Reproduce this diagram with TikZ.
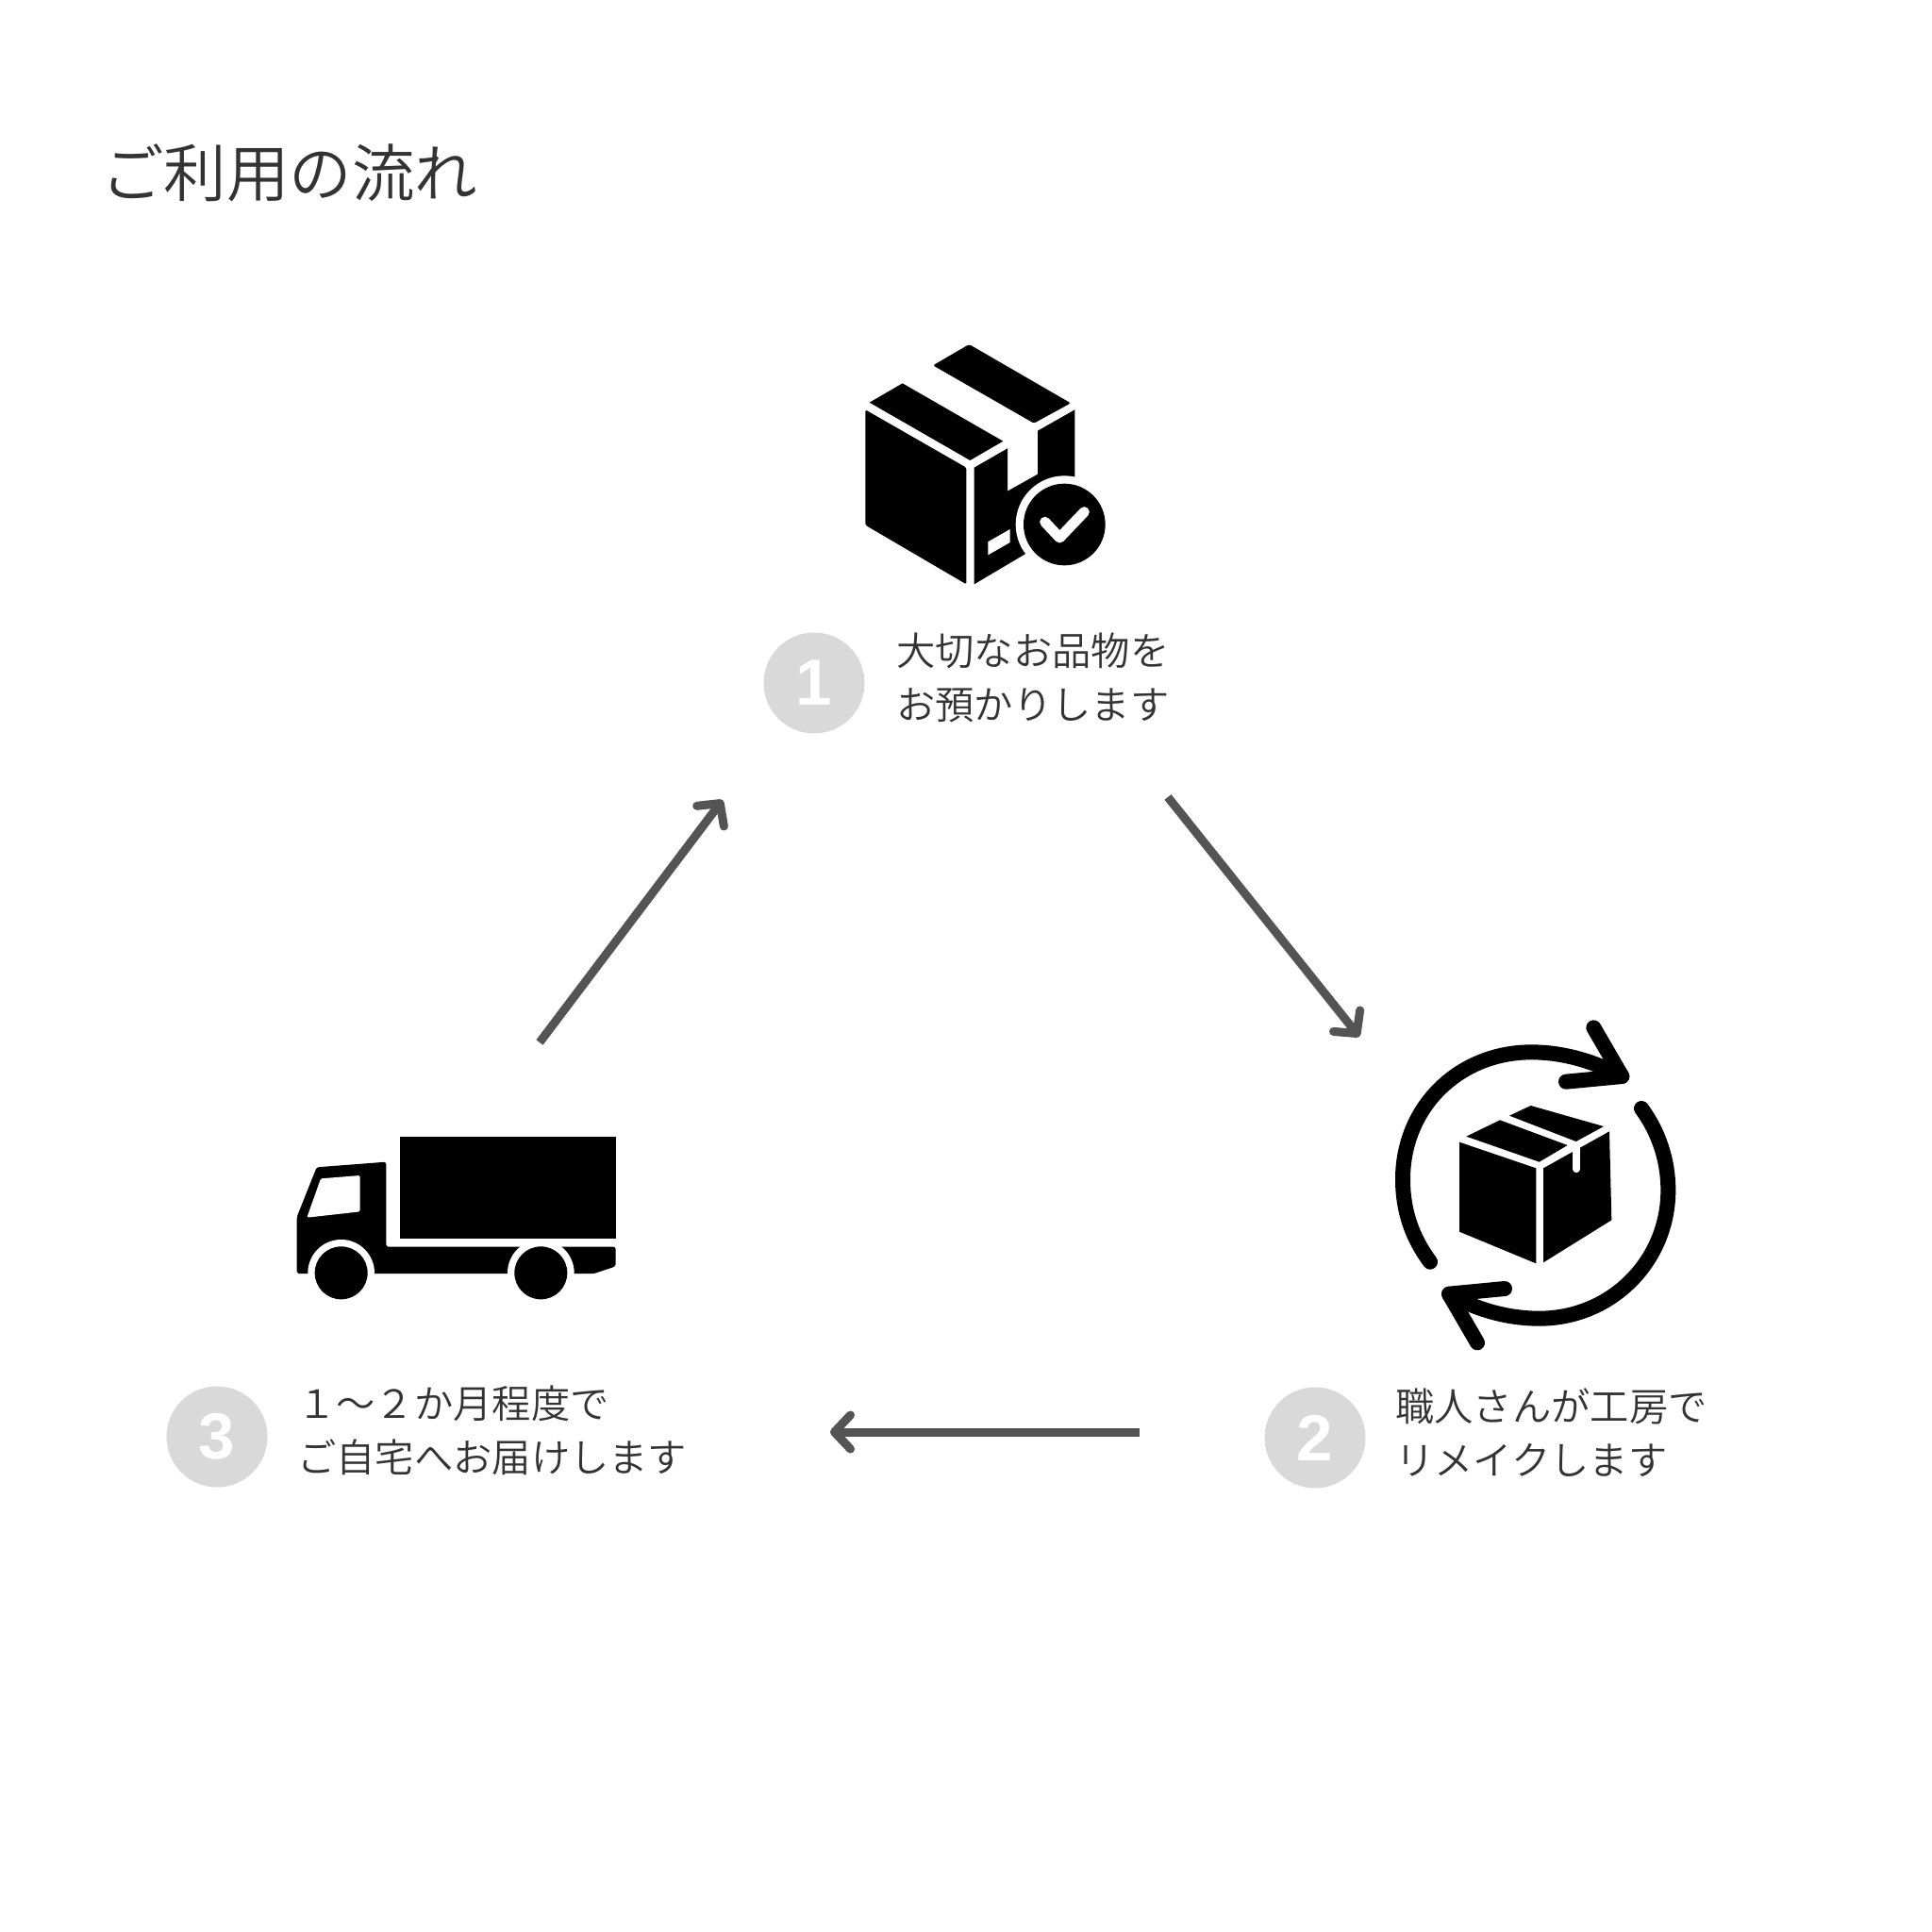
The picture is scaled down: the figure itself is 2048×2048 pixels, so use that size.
\documentclass[tikz,border=0pt]{standalone}
\usepackage{fontspec}
\setmainfont{Noto Sans CJK JP}[UprightFont=* DemiLight]
\newfontfamily\numfont{Liberation Sans}[Scale=1]
\usetikzlibrary{arrows.meta}
\definecolor{ink}{HTML}{333333}
\definecolor{arrowc}{HTML}{545454}
\definecolor{disc}{HTML}{D9D9D9}
\tikzset{
  flowarrow/.style={draw=arrowc,line width=9pt,-{Straight Barb[length=17pt,width=36pt,line width=9pt,round]}},
  numdisc/.style={circle,fill=disc,minimum size=107pt,inner sep=0pt,text=white,font=\numfont\bfseries\fontsize{69}{69}\selectfont},
  caption/.style={text=ink,anchor=west,align=left,inner sep=0pt,font=\fontsize{41.3}{57}\selectfont},
  titlelabel/.style={text=ink,anchor=west,inner sep=0pt,font=\fontsize{66.5}{70}\selectfont},
  zoomed/.style={x=0.33333pt,y=-0.33333pt},
}
\begin{document}
\begin{tikzpicture}[x=1pt,y=-1pt]
\useasboundingbox (0,0) rectangle (2048,2048);
\fill[white] (0,0) rectangle (2048,2048);
\node[titlelabel] (title) at (107,183) {ご利用の流れ};
% Icon 1
\begin{scope}[shift={(880,340)},zoomed]
 \fill[rounded corners=1.5pt] (327,142) -- (442,75) -- (765,262) -- (648,326) -- cycle;
 \fill (125,260) -- (230,199) -- (550,383) -- (445,444) -- cycle;
 \fill[rounded corners=1.5pt] (112,283) -- (433,467) -- (433,838) -- (112,650) -- cycle;
 \fill (458,467) -- (564,406) -- (564,542) -- (660,488) -- (660,350) -- (778,283) -- (778,560) -- (620,742) -- (458,838) -- cycle;
 \fill[white] (502,703) -- (572,663) -- (572,705) -- (502,745) -- cycle;
 \fill[white] (745,648) circle[radius=155];
 \fill (745,648) circle[radius=130];
 \draw[white,line width=11pt,line cap=round,line join=round] (683,640) -- (730,690) -- (808,608);
\end{scope}
% Icon 2
\begin{scope}[shift={(1450,1060)},zoomed]
 \fill (291,452) -- (535,535) -- (535,838) -- (291,737) -- cycle;
 \fill (558,535) -- (768,418) -- (775,700) -- (558,835) -- cycle;
 \fill (313,434) -- (420,382) -- (635,462) -- (545,515) -- cycle;
 \fill (450,368) -- (518,336) -- (750,402) -- (662,450) -- cycle;
 \draw[white,line width=7.5pt,line cap=round] (663,470) -- (663,538);
 \begin{scope}[line width=16pt,line cap=round,line join=round]
 \draw (198,833) .. controls (140,755) and (111,670) .. (111,570) .. controls (111,340) and (290,166) .. (520,166) .. controls (620,166) and (720,195) .. (808,243);
 \draw (718,88) -- (808,243) -- (630,260);
 \draw (870,345) .. controls (925,420) and (955,510) .. (955,605) .. controls (955,830) and (775,1013) .. (545,1013) .. controls (445,1013) and (345,985) .. (258,935);
 \draw (348,1090) -- (258,935) -- (435,918);
 \end{scope}
\end{scope}
% Icon 3
\begin{scope}[shift={(300,1180)},zoomed]
 \fill (372,74) rectangle (1058,400);
 \fill[rounded corners=2.5pt] (44,330) -- (107,172) -- (328,155) -- (328,425) -- (1058,425) -- (1058,487) -- (990,510) -- (44,510) -- cycle;
 \fill[white,rounded corners=1.5pt] (120,208) -- (245,198) -- (245,313) -- (76,332) -- cycle;
 \fill[white] (185,508) circle[radius=106];
 \fill (185,508) circle[radius=84];
 \fill[white] (820,508) circle[radius=106];
 \fill (820,508) circle[radius=84];
\end{scope}
% Steps
\node[numdisc] (n1) at (863,724) {1};
\node[numdisc] (n2) at (1394,1524) {2};
\node[numdisc] (n3) at (230,1523) {3};
\node[caption] (t1) at (950,718) {大切なお品物を\\お預かりします};
\node[caption] (t2) at (1479,1519) {職人さんが工房で\\リメイクします};
\node[caption] (t3) at (315,1516) {１～２か月程度で\\ご自宅へお届けします};
% Arrows
\coordinate (a1s) at (572,1105);
\coordinate (a1e) at (766,848);
\coordinate (a2s) at (1238,845);
\coordinate (a2e) at (1441,1099);
\coordinate (a3s) at (1208,1518);
\coordinate (a3e) at (880,1518);
\draw[flowarrow] (a1s) -- (a1e);
\draw[flowarrow] (a2s) -- (a2e);
\draw[flowarrow] (a3s) -- (a3e);
\end{tikzpicture}
\end{document}
